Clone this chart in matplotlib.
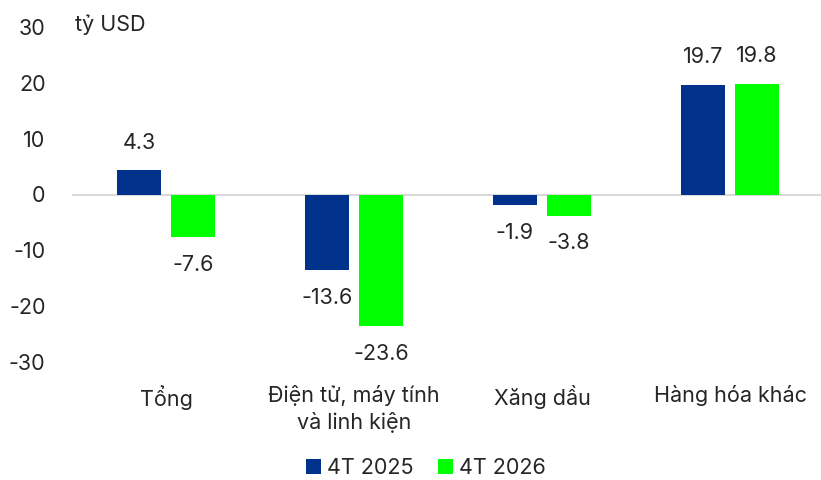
import numpy as np
import matplotlib
matplotlib.use("Agg")
import matplotlib.pyplot as plt

plt.rcParams['font.family'] = ['Inter', 'DejaVu Sans']
plt.rcParams['axes.unicode_minus'] = False

# data
categories = ["Tổng", "Điện tử, máy tính\nvà linh kiện", "Xăng dầu", "Hàng hóa khác"]
series_names = ["4T 2025", "4T 2026"]
vals_2025 = [4.3, -13.6, -1.9, 19.7]
vals_2026 = [-7.6, -23.6, -3.8, 19.8]
colors = ["#00318B", "#00FF00"]

fs = 15.5
txt_color = "#262626"

fig = plt.figure(figsize=(8.21, 4.80), dpi=100)
ax = fig.add_axes([72 / 821, 1 - 362 / 480, 1 - 72 / 821, (362 - 27) / 480])

x = np.arange(len(categories))
w = 0.234
off = 0.144

for vals, col, name, dx in zip([vals_2025, vals_2026], colors, series_names, [-off, off]):
    bars = ax.bar(x + dx, vals, width=w, color=col, label=name, zorder=3)
    for b, v in zip(bars, vals):
        dy = 20 if v >= 0 else -20
        ax.annotate(f"{v:.1f}", (b.get_x() + b.get_width() / 2, v),
                    xytext=(0, dy), textcoords="offset points",
                    ha="center", va="center", fontsize=fs, color=txt_color)

ax.axhline(0, color="#d9d9d9", lw=1.5, zorder=2)
ax.set_ylim(-30, 30)
ax.set_yticks(np.arange(-30, 31, 10))
ax.set_xlim(-0.5, 3.484)
ax.set_xticks([])
for s in ax.spines.values():
    s.set_visible(False)
ax.tick_params(axis="y", length=0, pad=19, labelsize=fs, labelcolor=txt_color)

for xi, c in zip(x, categories):
    ax.text(xi, -34.2, c, ha="center", va="top", fontsize=fs, color=txt_color,
            linespacing=1.3)

fig.text(75 / 821, 1 - 25 / 480, "tỷ USD", ha="left", va="center",
         fontsize=fs, color=txt_color)

fig.legend(loc="center", bbox_to_anchor=(426 / 821, 1 - 468 / 480), ncol=2,
           frameon=False, fontsize=fs, handlelength=0.7, handleheight=0.7,
           handletextpad=0.3, columnspacing=1.1, labelcolor=txt_color)

fig.savefig("out.png", dpi=100)
